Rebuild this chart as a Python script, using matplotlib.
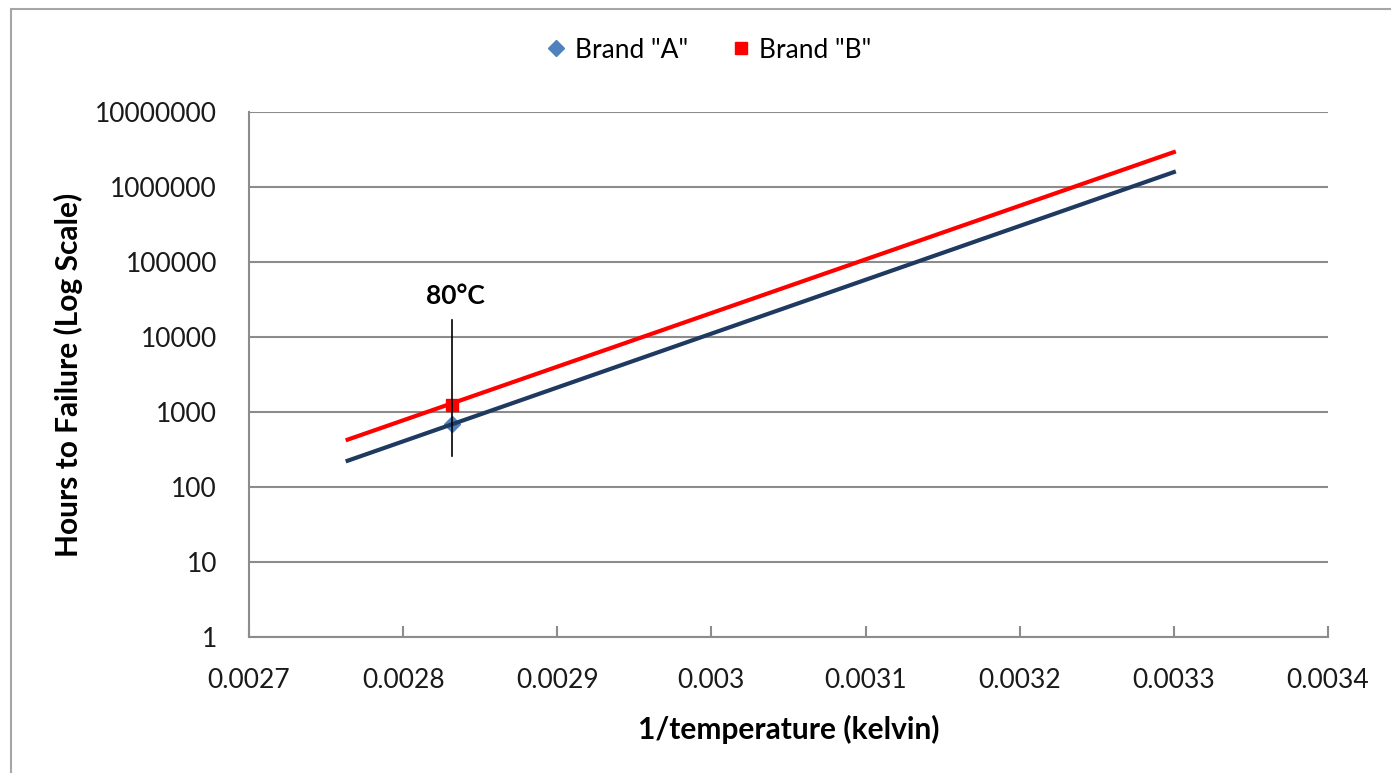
import matplotlib.pyplot as plt
from matplotlib.patches import Rectangle

plt.rcParams['font.family'] = ['Lato', 'DejaVu Sans']

# line ends (1/T in 1/K) and hours to failure
inv_t_ends = [0.002764, 0.003300]
hours_a = [224, 1.58e6]
hours_b = [428, 2.92e6]

# measured points at 80 C
inv_t_80 = 1 / 353.15
point_a = [690]
point_b = [1240]
marker_span = [260, 16600]

x_ticks = [0.0027, 0.0028, 0.0029, 0.0030, 0.0031, 0.0032, 0.0033, 0.0034]
x_labels = ['0.0027', '0.0028', '0.0029', '0.003', '0.0031', '0.0032', '0.0033', '0.0034']
y_ticks = [1, 10, 100, 1000, 10000, 100000, 1000000, 10000000]
y_labels = [str(v) for v in y_ticks]

fig = plt.figure(figsize=(13.91, 7.73), dpi=100)
ax = fig.add_axes([249 / 1391, 1 - 637 / 773, (1328 - 249) / 1391, (637 - 112) / 773])

# outer chart border
fig.patches.append(Rectangle((11 / 1391, -0.05), 1.1, 1 - 9 / 773 + 0.05,
                             transform=fig.transFigure, fill=False,
                             edgecolor='#a6a6a6', linewidth=1.5))

ax.set_yscale('log')
ax.set_xlim(0.0027, 0.0034)
ax.set_ylim(1, 1e7)

ax.plot(inv_t_ends, hours_a, color='#1f3a60', linewidth=3, zorder=3)
ax.plot(inv_t_ends, hours_b, color='#ff0000', linewidth=3, zorder=4)
ax.plot([inv_t_80, inv_t_80], marker_span, color='black', linewidth=1.2, zorder=5)
ax.plot([inv_t_80], point_a, linestyle='none', marker='D', color='#4f81bd',
        markersize=8, zorder=2, label='Brand "A"')
ax.plot([inv_t_80], point_b, linestyle='none', marker='s', color='#ff0000',
        markersize=8, zorder=4, label='Brand "B"')
ax.text(inv_t_80 + 0.0000025, 2.4e4, '80°C', ha='center', va='bottom', fontsize=19,
        fontweight='bold')

ax.set_xticks(x_ticks)
ax.set_xticklabels(x_labels)
ax.set_yticks(y_ticks)
ax.set_yticklabels(y_labels)
ax.yaxis.set_minor_locator(plt.NullLocator())
ax.tick_params(axis='x', direction='in', length=8, width=1.5, color='#8c8c8c',
               pad=22, labelsize=19, labelcolor='#1a1a1a')
ax.tick_params(axis='y', length=0, pad=23, labelsize=19, labelcolor='#1a1a1a')

ax.grid(axis='y', color='#8c8c8c', linewidth=1.5)
ax.set_axisbelow(True)
for s in ['top', 'right']:
    ax.spines[s].set_visible(False)
for s in ['left', 'bottom']:
    ax.spines[s].set_color('#8c8c8c')
    ax.spines[s].set_linewidth(1.5)

ax.set_xlabel('1/temperature (kelvin)', fontsize=21.5, fontweight='bold', labelpad=16)
ax.set_ylabel('Hours to Failure (Log Scale)', fontsize=21.5, fontweight='bold', labelpad=9)

fig.legend(loc='center', bbox_to_anchor=(710 / 1391, 1 - 50 / 773), ncol=2,
           frameon=False, fontsize=19, handlelength=0.6, handletextpad=0.4,
           columnspacing=1.7)

fig.savefig('out.png', dpi=100)
